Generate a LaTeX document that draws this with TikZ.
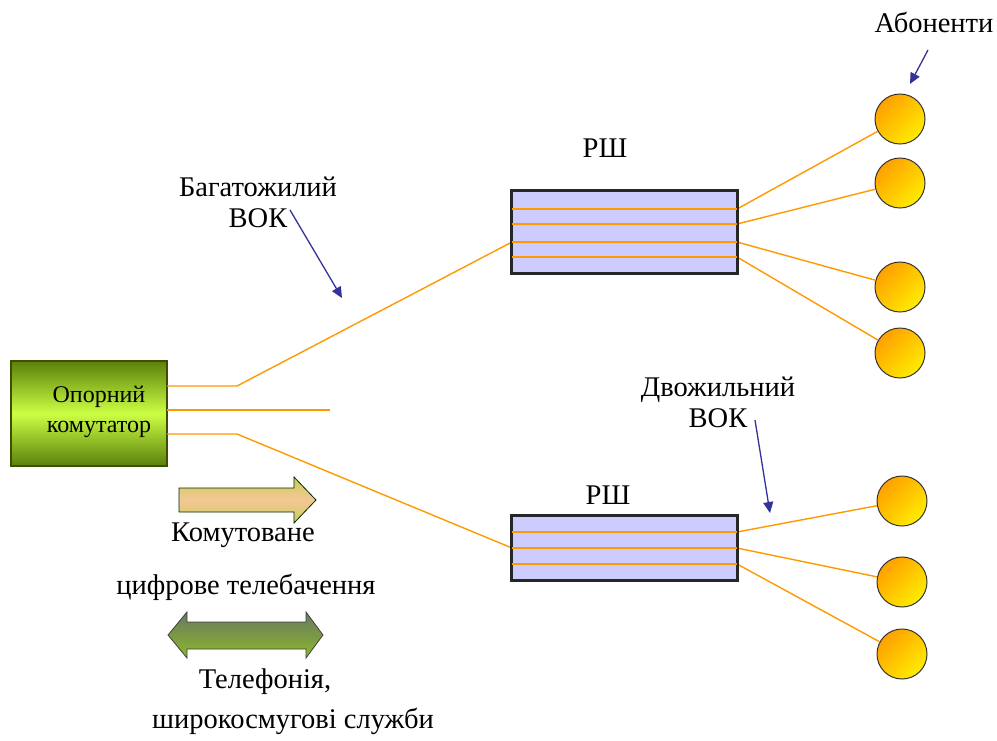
\documentclass[tikz,border=0pt]{standalone}
\usepackage{fontspec}
\setmainfont{Liberation Serif}
\usetikzlibrary{arrows.meta}
\definecolor{fiber}{RGB}{255,153,0}
\definecolor{rsfill}{RGB}{204,204,255}
\definecolor{lblue}{RGB}{51,51,153}
\definecolor{swdark}{RGB}{90,128,10}
\definecolor{swlight}{RGB}{204,255,68}
\definecolor{swborder}{RGB}{60,80,0}
\definecolor{suborange}{RGB}{255,160,0}
\definecolor{subyellow}{RGB}{255,236,0}
\definecolor{arOlive}{RGB}{200,205,90}
\definecolor{arPeach}{RGB}{244,200,148}
\definecolor{dGray}{RGB}{105,120,100}
\definecolor{dGreen}{RGB}{140,184,40}
\begin{document}
\begin{tikzpicture}[x=1pt,y=-1pt,
  fiber/.style={draw=fiber,line width=1.4pt},
  rsbox/.style={draw=black!85,line width=1.8pt,fill=rsfill,minimum width=225pt,inner sep=0pt},
  boxedge/.style={draw=black!85,line width=1.8pt},
  sub/.style={circle,draw=black!80,line width=1pt,minimum size=50pt,inner sep=0pt,top color=suborange,bottom color=subyellow,shading angle=45},
  swbox/.style={draw=swborder,line width=1.2pt,top color=swdark,bottom color=swdark,middle color=swlight,minimum width=156pt,minimum height=105pt,inner sep=0pt},
  swtext/.style={align=center,inner sep=0pt,font=\fontsize{24}{30}\selectfont},
  lbl/.style={font=\fontsize{28.5}{31}\selectfont,inner sep=0pt},
  pointer/.style={draw=lblue,line width=1.3pt,-{Triangle[length=11pt,width=10pt]}}
]
\useasboundingbox (0,0) rectangle (997,740);

% switch
\node[swbox] (sw) at (89,413.5) {};
\node[swtext] (swt) at (99,412) {Опорний\\комутатор};

% distribution boxes
\node[rsbox,minimum height=82pt] (rs1) at (624.5,232) {};
\node[rsbox,minimum height=64pt] (rs2) at (624.5,548) {};

% subscribers
\node[sub] (s1) at (900,119) {};
\node[sub] (s2) at (900,183) {};
\node[sub] (s3) at (900,287) {};
\node[sub] (s4) at (900,353) {};
\node[sub] (s5) at (902,501) {};
\node[sub] (s6) at (902,582) {};
\node[sub] (s7) at (902,654) {};

% fibre coordinates
\coordinate (o1) at (167,386);
\coordinate (o2) at (167,410);
\coordinate (o3) at (167,434);
\coordinate (k1) at (237,386);
\coordinate (k3) at (237,434);
\coordinate (e2) at (330,410);
\foreach \y [count=\i] in {209,224,242,257} {
  \coordinate (a\i) at (512,\y);
  \coordinate (b\i) at (737,\y);
}
\foreach \y [count=\i] in {532,548,564} {
  \coordinate (c\i) at (512,\y);
  \coordinate (d\i) at (737,\y);
}

% fibres
\draw[fiber] (o1) -- (k1) -- (a3);
\draw[fiber] (o2) -- (e2);
\draw[fiber] (o3) -- (k3) -- (c2);
\foreach \i in {1,2,3,4} { \draw[fiber] (a\i) -- (b\i); }
\foreach \i in {1,2,3} { \draw[fiber] (c\i) -- (d\i); }
\draw[fiber] (b1) -- (s1);
\draw[fiber] (b2) -- (s2);
\draw[fiber] (b3) -- (s3);
\draw[fiber] (b4) -- (s4);
\draw[fiber] (d1) -- (s5);
\draw[fiber] (d2) -- (s6);
\draw[fiber] (d3) -- (s7);
% redraw box borders over fibres
\draw[boxedge] (rs1.north west) rectangle (rs1.south east);
\draw[boxedge] (rs2.north west) rectangle (rs2.south east);

% labels
\node[lbl] (tab) at (934,22) {Абоненти};
\node[lbl] (trs1) at (605,148) {РШ};
\node[lbl] (trs2) at (608,495) {РШ};
\node[lbl,align=center] (tmulti) at (258,202) {Багатожилий\\ВОК};
\node[lbl,align=center] (ttwo) at (718,402) {Двожильний\\ВОК};
\node[lbl] (tk) at (243,535) {Комутоване};
\node[lbl] (tc) at (246,587) {цифрове телебачення};
\node[lbl] (tt) at (265,682) {Телефонія,};
\node[lbl] (tw) at (293,721) {широкосмугові служби};

% pointers
\coordinate (p1s) at (290,210); \coordinate (p1e) at (342,298);
\coordinate (p2s) at (755,420); \coordinate (p2e) at (770,513);
\coordinate (p3s) at (928,50);  \coordinate (p3e) at (910,84);
\draw[pointer] (p1s) -- (p1e);
\draw[pointer] (p2s) -- (p2e);
\draw[pointer] (p3s) -- (p3e);

% block arrows
\path[draw=black!60!green!40!black,line width=0.8pt,top color=arOlive,bottom color=arOlive,middle color=arPeach]
  (179,488) -- (294,488) -- (294,477) -- (316,500) -- (294,523) -- (294,512) -- (179,512) -- cycle;
\path[draw=black!75,line width=0.8pt,top color=dGray,bottom color=dGreen]
  (168,635) -- (187,612) -- (187,622) -- (306,622) -- (306,612) -- (323,635) -- (306,658) -- (306,649) -- (187,649) -- (187,658) -- cycle;
\end{tikzpicture}
\end{document}
